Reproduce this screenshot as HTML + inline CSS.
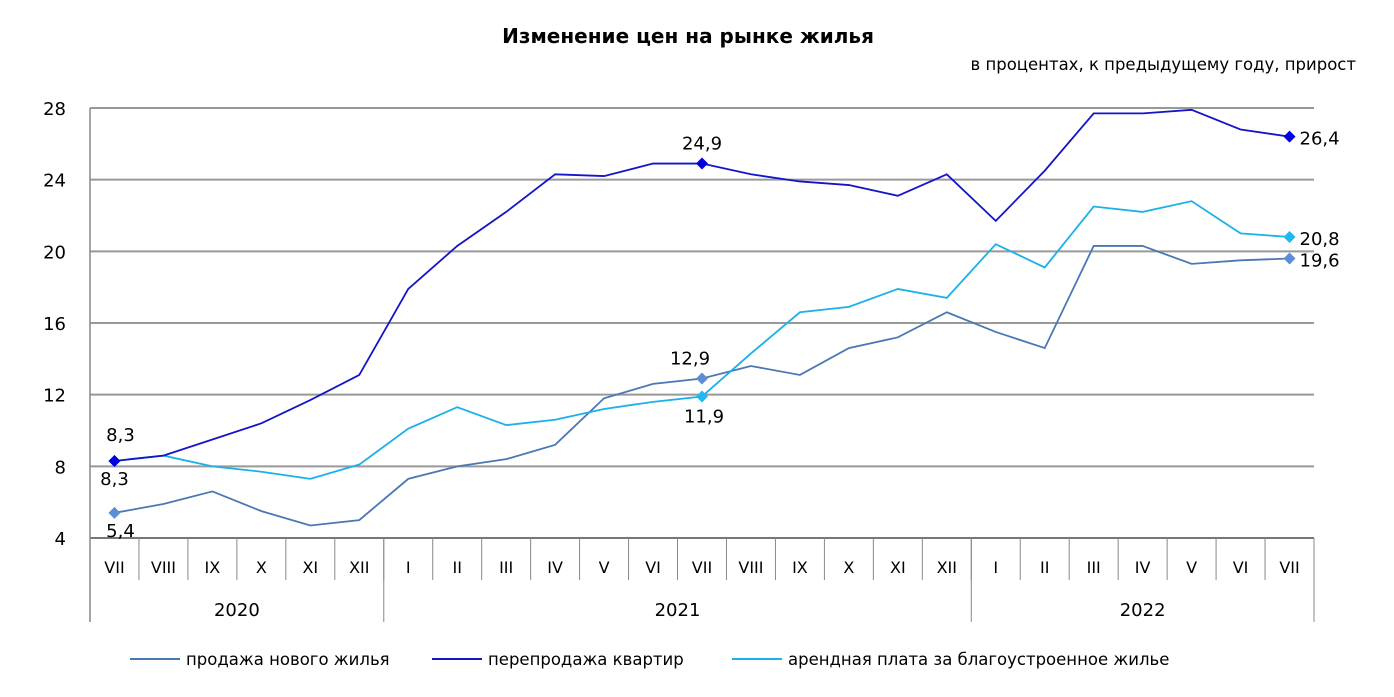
<!DOCTYPE html>
<html><head><meta charset="utf-8">
<style>
body{margin:0;background:#fff;}
svg{display:block;font-family:"DejaVu Sans","Liberation Sans",sans-serif;}
</style></head>
<body>
<svg id="chart" width="1394" height="697" viewBox="0 0 1394 697">
<text x="688" y="43" text-anchor="middle" font-size="20" font-weight="bold" fill="#000">Изменение цен на рынке жилья</text>
<text x="1356" y="70" text-anchor="end" font-size="16.5" fill="#000">в процентах,  к предыдущему году, прирост</text>
<g id="grid"></g><g id="axes"></g><g id="series"></g><g id="labels"></g>
<g>
<line x1="130" y1="659" x2="180" y2="659" stroke="#4a78b4" stroke-width="2"/>
<text x="186" y="665" font-size="16.5">продажа нового  жилья</text>
<line x1="432" y1="659" x2="482" y2="659" stroke="#1414c8" stroke-width="2"/>
<text x="488" y="665" font-size="16.5">перепродажа  квартир</text>
<line x1="732" y1="659" x2="782" y2="659" stroke="#1ab0e8" stroke-width="2"/>
<text x="788" y="665" font-size="16.5">арендная плата за благоустроенное  жилье</text>
</g>
</svg>
<script>
const months=["VII","VIII","IX","X","XI","XII","I","II","III","IV","V","VI","VII","VIII","IX","X","XI","XII","I","II","III","IV","V","VI","VII"];
const years=["2020","2021","2022"];
const yearSpans=[6,12,7];
const yTicks=[4,8,12,16,20,24,28];
const resale=[8.3,8.6,9.5,10.4,11.7,13.1,17.9,20.3,22.2,24.3,24.2,24.9,24.9,24.3,23.9,23.7,23.1,24.3,21.7,24.5,27.7,27.7,27.9,26.8,26.4];
const newHousing=[5.4,5.9,6.6,5.5,4.7,5.0,7.3,8.0,8.4,9.2,11.8,12.6,12.9,13.6,13.1,14.6,15.2,16.6,15.5,14.6,20.3,20.3,19.3,19.5,19.6];
const rent=[8.3,8.6,8.0,7.7,7.3,8.1,10.1,11.3,10.3,10.6,11.2,11.6,11.9,14.3,16.6,16.9,17.9,17.4,20.4,19.1,22.5,22.2,22.8,21.0,20.8];
const X0=90,X1=1314,Y0=538,Y1=108,VMIN=4,VMAX=28;
const step=(X1-X0)/months.length;
const x=i=>X0+step*(i+0.5);
const y=v=>Y0-(v-VMIN)/(VMAX-VMIN)*(Y0-Y1);
const NS="http://www.w3.org/2000/svg";
function mk(tag,attrs,parent,txt){const e=document.createElementNS(NS,tag);for(const k in attrs)e.setAttribute(k,attrs[k]);if(txt!==undefined)e.textContent=txt;document.getElementById(parent).appendChild(e);return e;}
yTicks.forEach(t=>{
 const l=mk("line",{x1:X0,x2:X1,y1:y(t),y2:y(t),stroke:t===VMIN?"#777":"#999","stroke-width":2},"grid");
 
 
 const tx=mk("text",{x:X0-24,y:y(t)+7,"text-anchor":"end","font-size":18},"axes",String(t));
 
 
});
mk("line",{x1:X0,x2:X0,y1:Y1,y2:622,stroke:"#888","stroke-width":1.5},"axes");
months.forEach((m,i)=>{
 const sep=mk("line",{x1:X0+step*(i+1),x2:X0+step*(i+1),y1:Y0,y2:580,stroke:"#888","stroke-width":1},"axes");
 
 
 const t=mk("text",{x:x(i),y:573,"text-anchor":"middle","font-size":16},"axes",m);
 
 
});
let acc=0;
years.forEach((yr,k)=>{
 const s=acc;acc+=yearSpans[k];
 const l=mk("line",{x1:X0+step*acc,x2:X0+step*acc,y1:Y0,y2:622,stroke:"#888","stroke-width":1},"axes");
 
 
 const t=mk("text",{x:X0+step*(s+acc)/2,y:616,"text-anchor":"middle","font-size":18},"axes",yr);
 
 
});
const marks=[0,12,24];
function series(data,color,mcolor,name,offs){
 const p=mk("polyline",{points:data.map((v,i)=>x(i)+","+y(v)).join(" "),fill:"none",stroke:color,"stroke-width":1.8},"series");
 
 
 marks.forEach((i,k)=>{
  const cx=x(i),cy=y(data[i]);
  const d=mk("polygon",{points:`${cx},${cy-6} ${cx+6},${cy} ${cx},${cy+6} ${cx-6},${cy}`,fill:mcolor},"series");
  
  
  const o=offs[k];
  const t=mk("text",{x:cx+o[0],y:cy+o[1],"text-anchor":o[2],"font-size":18},"labels",data[i].toFixed(1).replace(".",","));
  
  
 });
}
series(newHousing,"#4a78b4","#5b8ed6","new-housing",[[6,24,"middle"],[-12,-14,"middle"],[10,8,"start"]]);
series(rent,"#1ab0e8","#20b8f0","rent",[[0,24,"middle"],[2,26,"middle"],[10,8,"start"]]);
series(resale,"#1414c8","#0000e0","resale",[[6,-20,"middle"],[0,-14,"middle"],[10,8,"start"]]);
</script>
</body></html>
